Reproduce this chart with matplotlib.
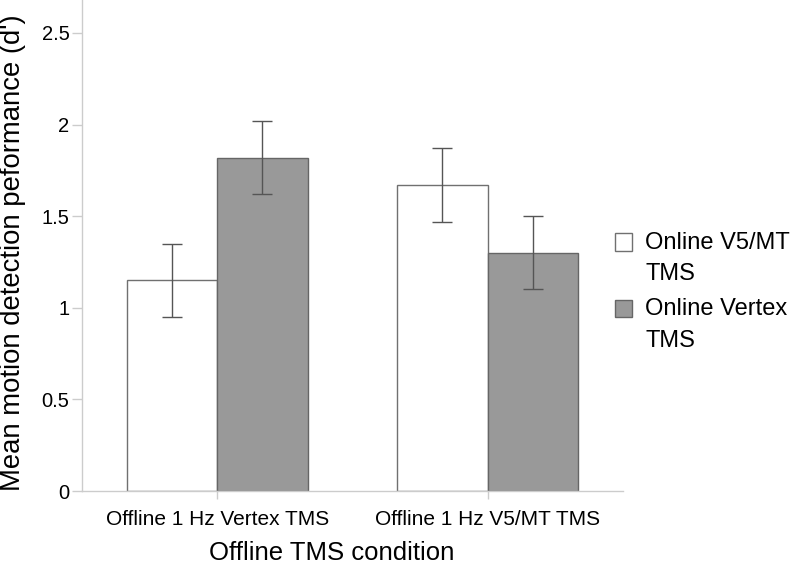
import numpy as np
import matplotlib.pyplot as plt
from matplotlib.patches import Rectangle
from matplotlib.container import BarContainer
from matplotlib.legend_handler import HandlerPatch, update_from_first_child

plt.rcParams['font.family'] = ['Liberation Sans', 'DejaVu Sans']

conditions = ['Offline 1 Hz Vertex TMS', 'Offline 1 Hz V5/MT TMS']
series_names = ['Online V5/MT\nTMS', 'Online Vertex\nTMS']
v5mt_means = [1.15, 1.67]
v5mt_err = [0.20, 0.20]
vertex_means = [1.82, 1.30]
vertex_err = [0.20, 0.20]


def top_square(legend, orig_handle, xdescent, ydescent, width, height, fontsize):
    # put the legend square next to the first line of the two-line label
    return Rectangle((-xdescent, -ydescent + 12), width, height)


fig = plt.figure(figsize=(8, 5.67), dpi=100)
ax = fig.add_axes([0.1025, 0.134, 0.676, 0.866])

x = np.arange(len(conditions))
width = 0.335
err_kw = dict(ecolor='#555555', elinewidth=1.0, capsize=7, capthick=1.0)

ax.bar(x - width / 2, v5mt_means, width, yerr=v5mt_err, color='white',
       edgecolor='#707070', linewidth=1.0, label=series_names[0], error_kw=err_kw)
ax.bar(x + width / 2, vertex_means, width, yerr=vertex_err, color='#999999',
       edgecolor='#666666', linewidth=1.0, label=series_names[1], error_kw=err_kw)

ax.set_xlim(-0.5, 1.5)
ax.set_ylim(0, 2.68)
ax.set_yticks([0, 0.5, 1, 1.5, 2, 2.5])
ax.set_yticklabels(['0', '0.5', '1', '1.5', '2', '2.5'])
ax.set_xticks(x)
ax.set_xticklabels(conditions)

for side in ['top', 'right']:
    ax.spines[side].set_visible(False)
for side in ['left', 'bottom']:
    ax.spines[side].set_color('#cccccc')
    ax.spines[side].set_linewidth(1.0)

ax.tick_params(axis='y', colors='#cccccc', labelcolor='black', labelsize=14.5,
               length=7, width=1.0, pad=2)
ax.tick_params(axis='x', colors='#cccccc', labelcolor='black', labelsize=15,
               length=6, width=1.0, pad=8)

ax.set_ylabel("Mean motion detection peformance (d')", fontsize=19.8)
ax.yaxis.set_label_coords(-0.103, 0.485)
ax.set_xlabel('Offline TMS condition', fontsize=18.5)
ax.xaxis.set_label_coords(0.462, -0.101)

square_handler = HandlerPatch(patch_func=top_square, update_func=update_from_first_child)
leg = ax.legend(loc='center left', frameon=False,
                fontsize=17, handlelength=0.75, handleheight=0.75,
                handletextpad=0.55, labelspacing=0.55, borderaxespad=0,
                borderpad=0, handler_map={BarContainer: square_handler})
leg.set_bbox_to_anchor((1.0 - 0.015, 0.406), transform=ax.transAxes)
for t in leg.get_texts():
    t.set_linespacing(1.55)

fig.savefig('out.png', dpi=100)
